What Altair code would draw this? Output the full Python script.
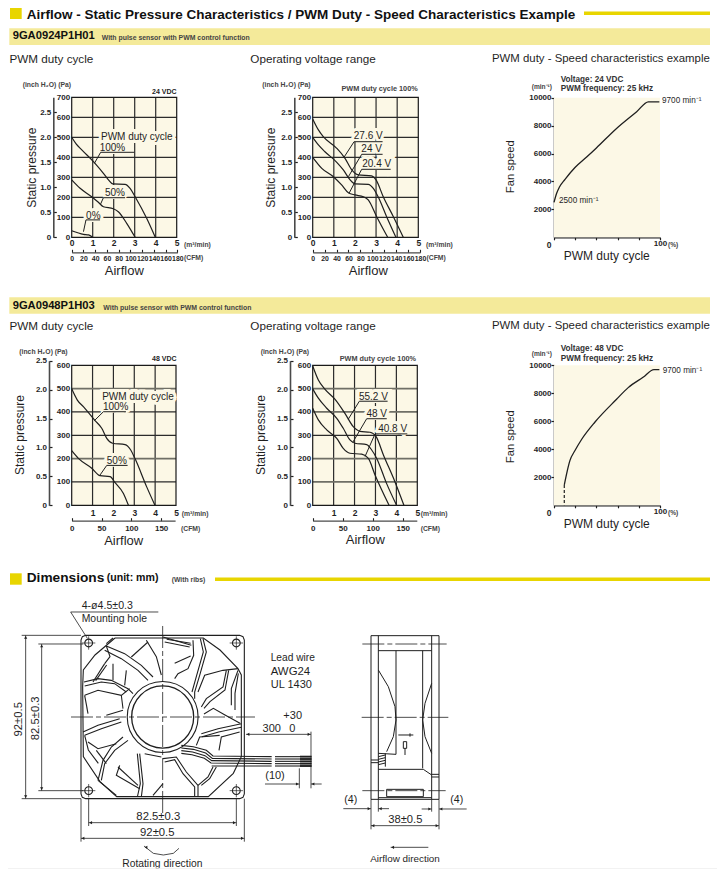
import altair as alt
import pandas as pd

# ---------- values ----------
P1_100 = [(0,500),(.21,467),(.48,437),(1.11,370),(1.51,320),(1.75,287),(1.95,267),(2.54,265),(2.78,245),(3.02,203),(3.57,95),(3.98,0)]
P1_50 = [(0,287),(.4,245),(.95,203),(1.27,175),(1.51,153),(1.98,143),(2.22,128),(2.62,70),(3.02,0)]
P1_0 = [(0,33),(.56,15),(.8,12),(1,0)]
P2_276 = [(0,592),(.27,537),(.5,503),(1.14,445),(1.53,395),(1.85,337),(2.16,312),(2.79,307),(3,287),(3.34,203),(3.82,103),(4.29,0)]
P2_24 = [(0,500),(.27,462),(.58,428),(1.14,375),(1.45,337),(1.77,287),(2,267),(2.63,265),(2.87,245),(3.11,200),(3.5,103),(3.94,0)]
P2_204 = [(0,400),(.43,345),(.98,303),(1.37,262),(1.69,223),(2,212),(2.4,203),(2.63,187),(3.03,103),(3.55,0)]
P3_SPEED = [(0,2500),(2.5,3150),(5,3580),(10.4,4150),(19.8,5000),(30.8,5750),(40,6400),(59,7800),(78,9000),(89,9700),(99.4,9700)]
P4_100 = [(0,499),(.27,451),(.56,423),(1.12,363),(1.44,330),(1.68,287),(1.96,266),(2.56,260),(2.83,237),(3.04,199),(3.59,80),(3.99,0)]
P4_50 = [(0,234),(.32,201),(.96,159),(1.36,127),(1.84,123),(2.08,97),(2.48,51),(2.72,0)]
P5_552 = [(0,597),(.27,537),(.59,497),(1.07,454),(1.54,394),(1.94,337),(2.26,317),(2.74,313),(3.03,294),(3.38,216),(3.93,101),(4.36,0)]
P5_48 = [(0,499),(.27,459),(.67,416),(1.15,373),(1.46,330),(1.78,280),(2.02,266),(2.58,260),(2.82,237),(3.06,201),(3.53,94),(4.01,0)]
P5_408 = [(0,416),(.27,366),(.67,323),(1.15,287),(1.46,244),(1.78,223),(2.34,219),(2.66,201),(2.98,130),(3.65,0)]
P6_SPEED = [(9.7,1452),(12,2286),(15,3190),(19.8,3914),(26,4700),(38.7,5950),(59,7571),(70,8405),(84,9143),(94.3,9690),(99.4,9690)]
P6_DASH = [(9.7,1452),(9.7,0)]

CFM_180 = [0,20,40,60,80,100,120,140,160,180]
CFM_150 = [0,50,100,150]
PA_700 = [0,100,200,300,400,500,600,700]
PA_600 = [0,100,200,300,400,500,600]
INCH = [0,.5,1,1.5,2,2.5]

P1_CALL = [[(1.08,370),(1.38,425),(2.98,425)],[(1.38,167),(1.51,198),(2.54,198)],[(.56,28),(.68,87),(1.35,87)]]
P1_LABELS = [(3.1,500,"PWM duty cycle"),(1.94,448,"100%"),(2.06,223,"50%"),(1.03,107,"0%")]
P2_CALL = [[(1.48,400),(1.96,478),(3.31,478)],[(1.69,303),(2.32,415),(3.31,415)],[(1.72,220),(2.32,340),(3.69,340)]]
P2_LABELS = [(2.63,508,"27.6 V"),(2.79,442,"24 V"),(3.03,367,"20.4 V")]
P4_CALL = [[(1.09,363),(1.52,401),(2.6,401)],[(1.36,130),(1.68,171),(2.68,171)]]
P4_LABELS = [(3.18,466,"PWM duty cycle"),(2.11,423,"100%"),(2.16,191,"50%")]
P5_CALL = [[(1.7,369),(2.23,446),(3.58,446)],[(1.91,269),(2.58,371),(3.54,371)],[(2.5,209),(2.98,306),(4.52,306)]]
P5_LABELS = [(2.9,466,"55.2 V"),(3.06,393,"48 V"),(3.82,329,"40.8 V")]

FAN_FRAME = [[(257,226),(719,226),(729,230),(733,240),(733,702),(729,712),(719,716),(257,716),(247,712),(243,702),(243,240),(247,230),(257,226)]]
FAN_VENTURI = [[(345,234),(610,234),(660,270),(714,326),(724,345),(724,590),(700,640),(625,710),(350,710),(300,665),(250,590),(248,380),(250,330),(285,285),(345,234)]]
FAN_BLADES = [
 [(319,258),(374,281),(424,316),(459,351)],[(314,271),(364,296),(414,331),(444,361)],
 [(252,366),(294,356),(334,361),(384,386),(399,401)],[(254,378),(304,366),(344,371),(379,396)],
 [(314,311),(279,366)],[(320,315),(287,362)],[(339,311),(339,361)],[(379,331),(374,376)],
 [(319,258),(330,290),(314,311)],[(394,291),(444,246)],[(439,241),(469,290),(484,345)],[(319,251),(339,234)],
 [(579,241),(581,286),(564,326),(534,341),(524,356)],[(609,236),(619,276),(599,346),(584,396),(584,416)],
 [(601,236),(610,276),(590,346),(576,396)],[(489,231),(574,256)],[(494,246),(569,261)],[(500,238),(572,250)],
 [(524,310),(572,288)],[(594,396),(614,346),(669,331),(714,326)],[(604,441),(619,416),(669,381),(679,331)],
 [(612,445),(630,425),(675,390),(686,331)],[(714,331),(694,386),(694,436)],[(715,340),(705,400),(705,450)],
 [(604,521),(654,506),(724,491)],[(606,530),(656,516),(724,502)],[(612,462),(640,445),(675,465),(720,490)],
 [(657,571),(664,531),(719,516)],[(589,556),(599,531),(659,526)],
 [(489,596),(529,591),(559,636),(594,676),(594,711)],[(494,606),(524,599),(549,641),(584,681),(584,711)],
 [(594,676),(624,651),(639,621)],[(604,676),(629,656),(649,621)],
 [(419,581),(429,671),(424,711)],[(412,581),(421,671),(412,711)],[(434,581),(484,591)],[(459,706),(489,671)],
 [(369,531),(334,561),(309,601),(294,661)],[(384,541),(344,571),(314,611),(304,661)],[(359,616),(349,646),(419,686)],
 [(354,621),(414,676)],[(294,661),(349,706)],
 [(249,516),(294,496),(359,476)],[(254,526),(304,506),(364,486)],[(264,546),(294,566),(349,551)],[(289,571),(319,611)],
 [(254,526),(265,570),(295,610)],[(254,406),(294,391),(364,406),(389,386)],[(264,461),(254,406)],[(364,406),(369,446)],[(319,466),(369,451)],
]
FAN_WIRES = [
 [(544,556),(580,560),(619,571),(639,588),(815,590)],[(544,564),(580,568),(617,579),(637,595),(815,597)],
 [(544,572),(578,576),(615,587),(635,602),(815,604)],[(544,580),(576,584),(613,595),(633,609),(815,611)],
 [(635,618),(815,618)],
 [(825,590),(900,590)],[(825,597),(900,597)],[(825,604),(900,604)],[(825,611),(900,611)],[(825,618),(900,618)],
]
WIRE_ENDS = [[(900,590),(935,590)],[(900,597),(935,597)],[(900,604),(935,604)],[(900,611),(935,611)],[(900,618),(935,618)]]
HOLES = [(266,249),(709,249),(266,692),(709,692)]
HUB = [(488,471)]
HOLE_CROSS = [[(246,249),(286,249)],[(266,229),(266,269)],[(689,249),(729,249)],[(709,229),(709,269)],
              [(246,692),(286,692)],[(266,672),(266,712)],[(689,692),(729,692)],[(709,672),(709,712)]]
CENTER = [[(488,198),(488,760)],[(213,471),(765,471)]]
DIMS = [
 [(77,226),(77,716)],[(65,226),(243,226)],[(65,716),(243,716)],[(125,252),(125,692)],[(115,252),(250,252)],[(115,692),(250,692)],
 [(266,788),(709,788)],[(243,835),(733,835)],[(266,716),(266,798)],[(709,716),(709,798)],[(243,716),(243,845)],[(733,716),(733,845)],
 [(475,156),(212,156),(262,235)],[(738,523),(933,523)],[(933,515),(933,685)],[(898,625),(898,685)],
 [(795,672),(898,672)],[(933,672),(965,672)],
 [(432,858),(460,880),(490,885),(520,880),(537,865)],
]
DIM_ARROWS_UP = [(77,232),(125,258)]
DIM_ARROWS_DOWN = [(77,710),(125,686)]
DIM_ARROWS_LEFT = [(272,788),(249,835),(744,523),(939,672),(438,862)]
DIM_ARROWS_RIGHT = [(703,788),(727,835),(927,523),(892,672)]

SIDE_LINES = [
 [(393,47),(597,47),(597,538),(393,538),(393,47)],[(415,47),(415,538)],[(575,47),(575,538)],[(415,92),(575,92)],
 [(468,92),(468,403)],[(548,92),(548,445)],[(415,150),(445,200),(465,260),(468,300),(460,350),(440,395)],
 [(575,190),(555,250),(548,300),(555,350),(575,400)],[(415,400),(468,403)],[(415,448),(550,448),(575,465)],
 [(440,508),(550,508),(550,530),(440,530),(440,508)],[(415,533),(575,533)],[(393,420),(415,420)],[(393,428),(415,428)],
 [(575,463),(597,463)],[(575,471),(597,471)],[(415,410),(436,405)],[(415,418),(436,413)],[(415,426),(436,421)],[(415,434),(436,429)],[(436,400),(436,440)],
 [(475,345),(520,345)],[(510,340),(510,350)],[(490,365),(500,365),(500,385),(490,385),(490,365)],[(495,385),(495,405)],
]
SIDE_CENTER = [[(367,72),(620,72)],[(365,292),(625,292)],[(367,512),(617,512)]]
SIDE_DIMS = [
 [(393,538),(393,628)],[(597,538),(597,628)],[(415,538),(415,575)],[(575,538),(575,575)],
 [(310,566),(393,566)],[(415,566),(447,566)],[(545,567),(575,567)],[(597,567),(680,567)],
 [(393,617),(597,617)],[(452,682),(565,682)],
]
SIDE_ARROWS_LEFT = [(399,617),(421,566),(603,567),(458,682)]
SIDE_ARROWS_RIGHT = [(591,617),(387,566),(569,567)]

# ---------- styling ----------
W, H = 709, 869
INK = "#1f1f1f"
CREAM = "#FCF8E6"
GOLD = "#E8D500"
BAND = "#F4EA9A"
FONT = "Liberation Sans"

def PX(x): return x - 8
def PY(y): return y - 8

def rows(paths):
    return pd.DataFrame([{"p": k, "i": i, "x": a, "y": b} for k, path in enumerate(paths) for i, (a, b) in enumerate(path)])

def xy(xs, ys, xaxis=None, yaxis=None):
    return dict(x=alt.X("x:Q", scale=xs, axis=xaxis), y=alt.Y("y:Q", scale=ys, axis=yaxis))

def paths(ps, xs, ys, width=1.0, color=INK, dash=None, interp="linear"):
    kw = dict(strokeWidth=width, color=color, interpolate=interp, clip=False)
    if dash: kw["strokeDash"] = dash
    return alt.Chart(rows(ps)).mark_line(**kw).encode(detail="p:N", order="i:Q", **xy(xs, ys))

def pts(p, xs, ys, **mark):
    d = pd.DataFrame(p, columns=["x", "y"])
    return alt.Chart(d).mark_point(**mark).encode(**xy(xs, ys))

def text(s, x, y, size=10, anchor="left", weight="normal", font=FONT, color=INK, angle=None):
    kw = dict(fontSize=size, align=anchor, baseline="middle", fontWeight=weight, font=font, color=color)
    if angle is not None: kw["angle"] = angle
    return alt.Chart(pd.DataFrame({"t": [s]})).mark_text(**kw).encode(x=alt.value(PX(x)), y=alt.value(PY(y)), text="t:N")

def box(x0, x1, y0, y1, color):
    return alt.Chart(pd.DataFrame({"k": [1]})).mark_rect(color=color).encode(
        x=alt.value(PX(x0)), x2=alt.value(PX(x1)), y=alt.value(PY(y0)), y2=alt.value(PY(y1)))

def axis_kw(**k):
    d = dict(title=None, grid=False, labelFont=FONT, labelFontSize=8, labelFontWeight="bold", labelColor=INK,
             labelOverlap=False, labelFlush=False, labelBound=False, tickColor=INK, domainColor=INK)
    d.update(k)
    return alt.Axis(**d)

def ghost(xs, ys, xvals, yvals, xaxis=None, yaxis=None):
    d = pd.DataFrame({"x": [xvals[0], xvals[-1]], "y": [yvals[0], yvals[-1]]})
    return alt.Chart(d).mark_point(opacity=0).encode(**xy(xs, ys, xaxis, yaxis))

def pressure_panel(x0, x1, yb, yt, pa_top, pa_ticks, inch_x, inch_top_y, inch_top, inch_zero_y,
                   m3_vals, m3_y, cfm_vals, cfm_end, cfm_px, cfm_line, cfm_label_y, cfm_size, curves, calls, labels, soft, lab_size):
    xs = alt.Scale(domain=[0, 5], range=[PX(x0), PX(x1)], zero=False, nice=False)
    ys = alt.Scale(domain=[0, pa_top], range=[PY(yb), PY(yt)], zero=False, nice=False)
    out = []
    bg = pd.DataFrame({"x": [0], "x2": [5], "y": [0], "y2": [pa_top]})
    ax_x = axis_kw(orient="bottom", offset=PY(yb) - H, values=m3_vals, format="d", tickSize=0, domain=False,
                   labelPadding=m3_y - yb, labelBaseline="middle", labelFontSize=8.5)
    ax_y = axis_kw(orient="left", offset=-PX(x0), values=pa_ticks, format="d", tickSize=0, domain=False, labelPadding=2)
    out.append(alt.Chart(bg).mark_rect(fill=CREAM).encode(x2="x2:Q", y2="y2:Q", **xy(xs, ys, ax_x, ax_y)))
    # grid
    gx = pd.DataFrame({"x": [1, 2, 3, 4], "y": 0, "y2": pa_top})
    out.append(alt.Chart(gx).mark_rule(color="#2b2b2b", strokeWidth=1.2).encode(y2="y2:Q", **xy(xs, ys)))
    hard_v = [v for v in pa_ticks[1:-1] if v not in soft]
    if hard_v:
        out.append(alt.Chart(pd.DataFrame({"y": hard_v, "x": 0, "x2": 5})).mark_rule(color="#2b2b2b", strokeWidth=1.2).encode(x2="x2:Q", **xy(xs, ys)))
    if soft:
        out.append(alt.Chart(pd.DataFrame({"y": soft, "x": 0, "x2": 5})).mark_rule(color="#6f6f66", strokeWidth=1.7).encode(x2="x2:Q", **xy(xs, ys)))
    out.append(alt.Chart(bg).mark_rect(fillOpacity=0, stroke="#1a1a1a", strokeWidth=1.2).encode(x2="x2:Q", y2="y2:Q", **xy(xs, ys)))
    # secondary axes
    ys2 = alt.Scale(domain=[0, inch_top], range=[PY(inch_zero_y), PY(inch_top_y)], zero=False, nice=False)
    ax_inch = axis_kw(orient="right", offset=PX(inch_x) - W, values=INCH, tickSize=3, domain=True, domainWidth=1.6, domainColor="#4a4a4a",
                      labelAlign="right", labelPadding=-5.5, tickWidth=1.2,
                      labelExpr="datum.value==0?'0':format(datum.value,'.1f')")
    out.append(ghost(xs, ys2, [0, 5], [0, inch_top], yaxis=ax_inch))
    xs2 = alt.Scale(domain=[0, cfm_end], range=[PX(x0), PX(x0) + cfm_end * cfm_px], zero=False, nice=False)
    ax_cfm = axis_kw(orient="top", offset=-PY(cfm_line), values=cfm_vals, format="d", tickSize=3, domain=True, domainWidth=1.3, domainColor="#4a4a4a",
                     labelBaseline="middle", labelPadding=-(cfm_label_y - cfm_line) - 3, tickWidth=1.1, labelFontSize=cfm_size)
    out.append(ghost(xs2, ys, [0, cfm_end], [0, pa_top], xaxis=ax_cfm))
    # labels, with a halo that breaks the grid behind them
    lab = pd.DataFrame(labels, columns=["x", "y", "t"])
    out.append(alt.Chart(lab).mark_text(font=FONT, fontSize=lab_size, stroke=CREAM, strokeWidth=6, align="center", baseline="middle").encode(text="t:N", **xy(xs, ys)))
    out.append(paths(calls, xs, ys, width=1.0))
    out.append(alt.Chart(lab).mark_text(font=FONT, fontSize=lab_size, color=INK, align="center", baseline="middle").encode(text="t:N", **xy(xs, ys)))
    # curves
    out.append(paths(curves, xs, ys, width=1.2, interp="monotone"))
    return out

def speed_panel(x0, x1, yb, yt, curve, dash_part=None):
    xs = alt.Scale(domain=[0, 100], range=[PX(x0), PX(x1)], zero=False, nice=False)
    ys = alt.Scale(domain=[0, 10000], range=[PY(yb), PY(yt)], zero=False, nice=False)
    bg = pd.DataFrame({"x": [0], "x2": [100], "y": [0], "y2": [10000]})
    ax_x = axis_kw(orient="bottom", offset=PY(yb) - H, values=[0, 20, 40, 60, 80, 100], tickSize=2.5, domain=True, domainWidth=1.3,
                   labelExpr="datum.value==100?'100':''", labelPadding=4, labelBaseline="middle", tickWidth=1.2)
    ax_y = axis_kw(orient="left", offset=-PX(x0), values=[2000, 4000, 6000, 8000, 10000], format="d", tickSize=3, domain=True, domainWidth=1.6,
                   domainColor="#4a4a4a", labelPadding=0, tickWidth=1.2)
    out = [alt.Chart(bg).mark_rect(fill=CREAM).encode(x2="x2:Q", y2="y2:Q", **xy(xs, ys, ax_x, ax_y))]
    out.append(paths([curve], xs, ys, width=1.3, interp="monotone"))
    if dash_part:
        out.append(paths([dash_part], xs, ys, width=1.2, dash=[3, 2]))
    return out

L = []
# page furniture
L += [box(10, 21.7, 8, 19, GOLD), box(584, 710, 11.6, 15, GOLD),
      text("Airflow - Static Pressure Characteristics / PWM Duty - Speed Characteristics Example", 26.7, 15, 13.5, weight="bold", color="#111"),
      box(9.3, 710, 28.3, 45, BAND), box(9.3, 710, 297.3, 313.7, BAND),
      text("9GA0924P1H01", 12.7, 36, 11.2, weight="bold", color="#111"),
      text("With pulse sensor with PWM control function", 101.7, 37.7, 6.9, weight="bold", color="#444"),
      text("9GA0948P1H03", 12.7, 306, 11.2, weight="bold", color="#111"),
      text("With pulse sensor with PWM control function", 103.3, 307.7, 6.9, weight="bold", color="#444")]
for yy in (59.3, 326):
    L += [text("PWM duty cycle", 9.5, yy, 11.7), text("Operating voltage range", 250.3, yy, 11.7),
          text("PWM duty - Speed characteristics example", 492, yy, 11.4)]

# panel 1
L += pressure_panel(71.7, 176.7, 237.3, 97.3, 700, PA_700, 53.3, 97.3, 2.8, 237.3, [0,1,2,3,4,5], 242, CFM_180, 180, .587, 252.3, 258.3, 6.9,
                    [P1_100, P1_50, P1_0], P1_CALL, P1_LABELS, [], 10)
L += [text("(inch H₂O)  (Pa)", 22.7, 84.7, 6.8, weight="bold", color="#444"), text("24 VDC", 176.5, 91.7, 7, anchor="right", weight="bold"),
      text("(m³/min)", 184, 244.7, 6.8, weight="bold", color="#444"), text("(CFM)", 184, 258.3, 6.8, weight="bold", color="#444"),
      text("Airflow", 124.3, 270.7, 13, anchor="center"), text("Static pressure", 32.3, 167.7, 12, anchor="center", angle=270)]
# panel 2
L += pressure_panel(312.7, 418.3, 237.3, 97.3, 700, PA_700, 294.3, 97.3, 2.8, 237.3, [0,1,2,3,4,5], 242, CFM_180, 180, .596, 252.3, 258.3, 6.9,
                    [P2_276, P2_24, P2_204], P2_CALL, P2_LABELS, [], 10)
L += [text("(inch H₂O)  (Pa)", 262.3, 84.7, 6.8, weight="bold", color="#444"), text("PWM duty cycle 100%", 417.7, 89.3, 7.3, anchor="right", weight="bold", color="#444"),
      text("(m³/min)", 426, 244.7, 6.8, weight="bold", color="#444"), text("(CFM)", 426.5, 258.3, 6.8, weight="bold", color="#444"),
      text("Airflow", 368.3, 270.7, 13, anchor="center"), text("Static pressure", 271, 167.7, 12, anchor="center", angle=270)]
# panel 3
L += speed_panel(554, 660, 237.3, 97.7, P3_SPEED)
L += [text("Voltage: 24 VDC", 560.7, 80, 8.2, weight="bold", color="#333"), text("PWM frequency: 25 kHz", 560.7, 89, 8.2, weight="bold", color="#333"),
      text("(min⁻¹)", 531.7, 86.7, 6.6, weight="bold", color="#444"), text("9700 min⁻¹", 662, 100.7, 8.2),
      text("2500 min⁻¹", 559, 200.7, 8.2), text("0", 549, 244.5, 8.5, anchor="center", weight="bold"),
      text("(%)", 668, 245.3, 6.6, weight="bold", color="#444"), text("Fan speed", 510.7, 166.7, 11.2, anchor="center", angle=270),
      text("PWM duty cycle", 606.7, 256, 12, anchor="center")]
# panel 4
L += pressure_panel(71.7, 176, 505.3, 365.3, 600, PA_600, 49, 360.7, 2.5, 505.3, [1,2,3,4,5], 512.7, CFM_150, 173.5, .596, 520.7, 528.7, 8,
                    [P4_100, P4_50], P4_CALL, P4_LABELS, [500, 200], 10)
L += [text("(inch H₂O)  (Pa)", 19.3, 352.3, 6.8, weight="bold", color="#444"), text("48 VDC", 176.5, 359.3, 7, anchor="right", weight="bold"),
      text("(m³/min)", 181.7, 513.7, 6.8, weight="bold", color="#444"), text("(CFM)", 181, 529, 6.8, weight="bold", color="#444"),
      text("Airflow", 123.7, 541, 13, anchor="center"), text("Static pressure", 20, 435, 12, anchor="center", angle=270)]
# panel 5
L += pressure_panel(312.7, 417.3, 505.3, 365.3, 600, PA_600, 290, 360.7, 2.5, 505.3, [1,2,3,4,5], 512.7, CFM_150, 173.5, .6, 520.7, 528.7, 8,
                    [P5_552, P5_48, P5_408], P5_CALL, P5_LABELS, [500, 400, 200, 100], 10)
L += [text("(inch H₂O)  (Pa)", 260.7, 352.3, 6.8, weight="bold", color="#444"), text("PWM duty cycle 100%", 416, 359.3, 7.3, anchor="right", weight="bold", color="#444"),
      text("(m³/min)", 420.7, 513.7, 6.8, weight="bold", color="#444"), text("(CFM)", 420.7, 529, 6.8, weight="bold", color="#444"),
      text("Airflow", 365.3, 540, 13, anchor="center"), text("Static pressure", 260.7, 435, 12, anchor="center", angle=270)]
# panel 6
L += speed_panel(554, 660, 505.3, 365.3, P6_SPEED, P6_DASH)
L += [text("Voltage: 48 VDC", 560.7, 349.3, 8.2, weight="bold", color="#333"), text("PWM frequency: 25 kHz", 560.7, 358.5, 8.2, weight="bold", color="#333"),
      text("(min⁻¹)", 531.7, 354.3, 6.6, weight="bold", color="#444"), text("9700 min⁻¹", 662.7, 371, 8.2),
      text("0", 549, 512.7, 8.5, anchor="center", weight="bold"),
      text("(%)", 668, 513.3, 6.6, weight="bold", color="#444"), text("Fan speed", 510.7, 436.7, 11.2, anchor="center", angle=270),
      text("PWM duty cycle", 606.7, 524, 12, anchor="center")]

# dimensions section
L += [box(10, 21.7, 573.3, 584.7, GOLD), box(215, 710, 577.6, 581, GOLD),
      text("Dimensions", 26.7, 578.3, 13.7, weight="bold", color="#111"), text("(unit: mm)", 106.7, 578.3, 10.6, weight="bold", color="#111"),
      text("(With ribs)", 171.7, 580, 6.8, weight="bold", color="#444")]

fx = alt.Scale(domain=[243, 733], range=[PX(81), PX(244.33)], zero=False, nice=False)
fy = alt.Scale(domain=[716, 226], range=[PY(798.67), PY(635.33)], zero=False, nice=False)
L += [paths(FAN_FRAME, fx, fy, 1.1), paths(FAN_VENTURI, fx, fy, 1.1), paths(FAN_BLADES, fx, fy, 1.1),
      paths(FAN_WIRES, fx, fy, 1.1), paths(WIRE_ENDS, fx, fy, 1.9), paths(HOLE_CROSS, fx, fy, 0.7), paths(DIMS, fx, fy, 0.8),
      pts(HOLES, fx, fy, shape="circle", filled=False, size=60, color=INK, strokeWidth=1.1, opacity=1),
      pts(HUB, fx, fy, shape="circle", filled=True, size=3850, fill="#ffffff", stroke=INK, strokeWidth=1.3, opacity=1),
      pts(HUB, fx, fy, shape="circle", filled=False, size=5020, color=INK, strokeWidth=1.1, opacity=1),
      paths(CENTER, fx, fy, 0.8, dash=[22, 3, 5, 3]),
      pts(DIM_ARROWS_UP, fx, fy, shape="triangle-up", filled=True, size=10, color=INK, opacity=1),
      pts(DIM_ARROWS_DOWN, fx, fy, shape="triangle-down", filled=True, size=10, color=INK, opacity=1),
      pts(DIM_ARROWS_LEFT, fx, fy, shape="triangle-left", filled=True, size=10, color=INK, opacity=1),
      pts(DIM_ARROWS_RIGHT, fx, fy, shape="triangle-right", filled=True, size=10, color=INK, opacity=1)]
L += [text("4-ø4.5±0.3", 81.7, 606, 10.6), text("Mounting hole", 81.7, 619, 10.4),
      text("92±0.5", 19.3, 719.3, 11.3, anchor="center", angle=270), text("82.5±0.3", 35.7, 718.3, 11.3, anchor="center", angle=270),
      text("82.5±0.3", 158.3, 817.3, 11.3, anchor="center"), text("92±0.5", 157.3, 833.3, 11.3, anchor="center"),
      text("Lead wire", 270.7, 657.7, 10.2), text("AWG24", 270.7, 671.7, 11.4), text("UL 1430", 270.7, 685, 11),
      text("+30", 292.7, 716, 11, anchor="center"), text("300", 271.7, 729, 11, anchor="center"), text("0", 292.3, 729, 11, anchor="center"),
      text("(10)", 275, 776, 11, anchor="center"), text("Rotating direction", 162.3, 863.7, 10.3, anchor="center")]

sx = alt.Scale(domain=[393, 597], range=[PX(371), PX(439)], zero=False, nice=False)
sy = alt.Scale(domain=[538, 47], range=[PY(799.33), PY(635.67)], zero=False, nice=False)
L += [paths(SIDE_LINES, sx, sy, 1.0), paths(SIDE_CENTER, sx, sy, 0.8, dash=[22, 3, 5, 3]), paths(SIDE_DIMS, sx, sy, 0.8),
      pts(SIDE_ARROWS_LEFT, sx, sy, shape="triangle-left", filled=True, size=10, color=INK, opacity=1),
      pts(SIDE_ARROWS_RIGHT, sx, sy, shape="triangle-right", filled=True, size=10, color=INK, opacity=1)]
L += [text("(4)", 350.7, 800.3, 10.6, anchor="center"), text("(4)", 456.7, 800.3, 10.6, anchor="center"),
      text("38±0.5", 405.3, 820, 11.2, anchor="center"), text("Airflow direction", 405, 858.7, 9.9, anchor="center")]
L += [box(8, 717, 868, 868.8, "#eeeeee")]

chart = alt.layer(*L).resolve_scale(x="independent", y="independent").properties(
    width=W, height=H, padding=0, autosize=alt.AutoSizeParams(type="none", contains="padding")
).configure_view(strokeWidth=0)
chart.save("out.html", embed_options={"renderer": "svg", "actions": False})
